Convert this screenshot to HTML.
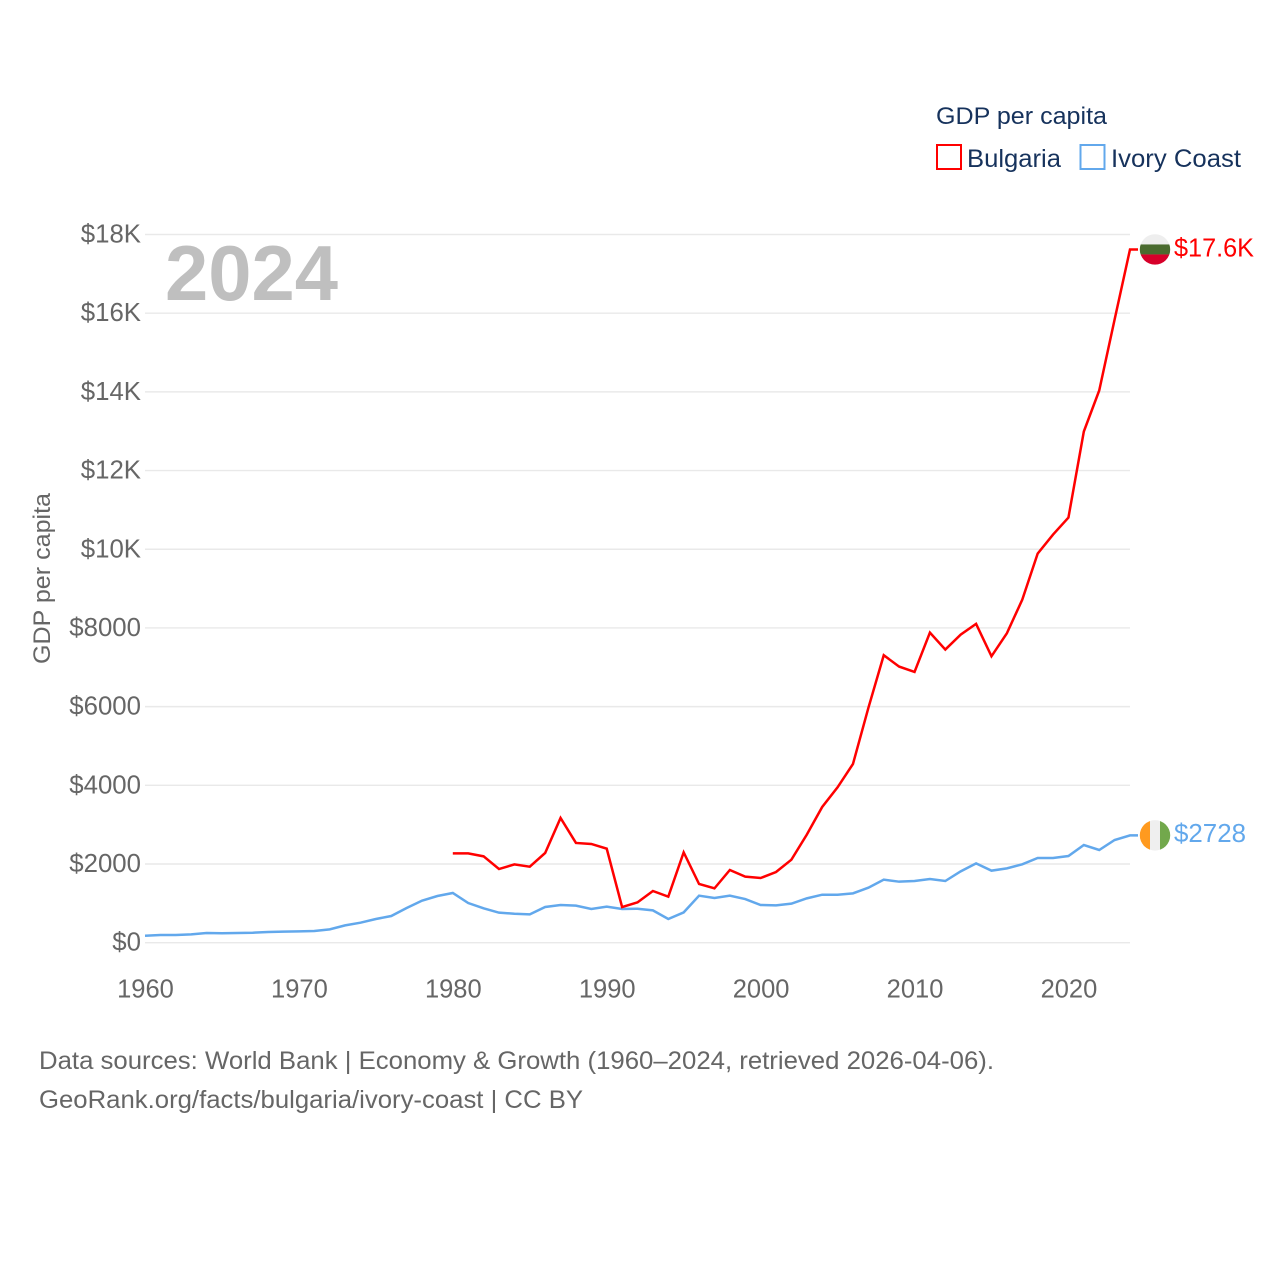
<!DOCTYPE html>
<html lang="en">
<head>
<meta charset="utf-8">
<title>GDP per capita: Bulgaria and Ivory Coast</title>
<style>
  html, body { margin: 0; padding: 0; background: #fff; }
  svg { display: block; font-family: "Liberation Sans", sans-serif; }
</style>
</head>
<body>
<svg id="chart" xmlns="http://www.w3.org/2000/svg" width="1280" height="1280" viewBox="0 0 1280 1280">
  <rect width="1280" height="1280" fill="#ffffff"/>
  <defs>
    <clipPath id="clip-bg"><circle cx="0" cy="0" r="15.2"/></clipPath>
    <clipPath id="clip-ci"><circle cx="0" cy="0" r="15.2"/></clipPath>
  </defs>
  <g id="grid"></g>
  <g id="y-labels"></g>
  <g id="x-labels"></g>
  <text x="165" y="300" font-size="78" font-weight="700" fill="#bfbfbf" textLength="173" lengthAdjust="spacingAndGlyphs">2024</text>
  <text transform="translate(50,578.5) rotate(-90)" text-anchor="middle" font-size="24" fill="#666666" textLength="171" lengthAdjust="spacingAndGlyphs">GDP per capita</text>
  <g id="series"></g>
  <g id="ends"></g>
  <g>
    <text x="936" y="124" font-size="24.5" fill="#16325c" textLength="171" lengthAdjust="spacingAndGlyphs">GDP per capita</text>
    <g>
      <rect x="937" y="145" width="24" height="24" fill="none" stroke="#ff0000" stroke-width="2"/>
      <text x="967" y="167" font-size="25" fill="#16325c" textLength="94" lengthAdjust="spacingAndGlyphs">Bulgaria</text>
    </g>
    <g>
      <rect x="1080.5" y="145" width="24" height="24" fill="none" stroke="#62a8ec" stroke-width="2"/>
      <text x="1111" y="167" font-size="25" fill="#16325c" textLength="130" lengthAdjust="spacingAndGlyphs">Ivory Coast</text>
    </g>
  </g>
  <g>
    <text x="39" y="1069" font-size="25" fill="#666666" textLength="955" lengthAdjust="spacingAndGlyphs">Data sources: World Bank | Economy &amp; Growth (1960–2024, retrieved 2026-04-06).</text>
    <text x="39" y="1108" font-size="25" fill="#666666" textLength="544" lengthAdjust="spacingAndGlyphs">GeoRank.org/facts/bulgaria/ivory-coast | CC BY</text>
  </g>
</svg>
<script>
const years = [1960,1961,1962,1963,1964,1965,1966,1967,1968,1969,1970,1971,1972,1973,1974,1975,1976,1977,1978,1979,1980,1981,1982,1983,1984,1985,1986,1987,1988,1989,1990,1991,1992,1993,1994,1995,1996,1997,1998,1999,2000,2001,2002,2003,2004,2005,2006,2007,2008,2009,2010,2011,2012,2013,2014,2015,2016,2017,2018,2019,2020,2021,2022,2023,2024];
const bulgaria = [null,null,null,null,null,null,null,null,null,null,null,null,null,null,null,null,null,null,null,null,2270,2270,2195,1873,1990,1932,2280,3170,2535,2510,2390,907,1025,1314,1170,2296,1492,1381,1848,1678,1644,1797,2110,2746,3450,3950,4543,5967,7306,7018,6882,7882,7450,7831,8103,7280,7865,8720,9890,10374,10806,12993,14035,15840,17620];
const ivoryCoast = [178,195,195,212,246,240,246,254,271,280,288,297,339,440,508,602,678,881,1068,1187,1263,1009,873,763,737,720,907,958,941,856,915,856,864,822,602,770,1195,1136,1195,1110,958,950,992,1127,1220,1220,1254,1398,1602,1551,1568,1619,1568,1814,2017,1831,1890,1992,2152,2152,2203,2483,2356,2610,2728];
const yTicks = [0,2000,4000,6000,8000,10000,12000,14000,16000,18000];
const yTickLabels = ["$0","$2000","$4000","$6000","$8000","$10K","$12K","$14K","$16K","$18K"];
const xTicks = [1960,1970,1980,1990,2000,2010,2020];
const endLabels = ["$17.6K","$2728"];

const NS = "http://www.w3.org/2000/svg";
const plotLeft = 145, plotRight = 1130, plotTop = 234.5, plotBottom = 942.7;
const xMin = 1960, xMax = 2024, yMin = 0, yMax = 18000;
const RED = "#ff0000", BLUE = "#62a8ec";

function xScale(v) { return plotLeft + (v - xMin) / (xMax - xMin) * (plotRight - plotLeft); }
function yScale(v) { return plotBottom - (v - yMin) / (yMax - yMin) * (plotBottom - plotTop); }
function make(tag, attrs, parent) {
  const el = document.createElementNS(NS, tag);
  for (const k in attrs) el.setAttribute(k, attrs[k]);
  parent.appendChild(el);
  return el;
}

const gridG = document.getElementById("grid");
const yLabelG = document.getElementById("y-labels");
yTicks.forEach(function (t, i) {
  const line = make("line", { x1: plotLeft, x2: plotRight, y1: yScale(t), y2: yScale(t), stroke: "#e9e9e9", "stroke-width": 1.4 }, gridG);
  
  
  const label = make("text", { x: 141, y: yScale(t) + 8, "text-anchor": "end", "font-size": 25.8, fill: "#666666" }, yLabelG);
  label.textContent = yTickLabels[i];
  
  
});

const xLabelG = document.getElementById("x-labels");
xTicks.forEach(function (t) {
  const label = make("text", { x: xScale(t) + 0.5, y: 997.5, "text-anchor": "middle", "font-size": 25.5, fill: "#666666" }, xLabelG);
  label.textContent = String(t);
  
  
});

function linePath(values) {
  let d = "";
  let last = null;
  values.forEach(function (v, i) {
    if (v === null) return;
    d += (d ? "L" : "M") + xScale(years[i]).toFixed(2) + " " + yScale(v).toFixed(2);
    last = v;
  });
  d += "L" + (plotRight + 8) + " " + yScale(last).toFixed(2);
  return d;
}

const seriesG = document.getElementById("series");
const blueLine = make("path", { d: linePath(ivoryCoast), fill: "none", stroke: BLUE, "stroke-width": 2.5, "stroke-linejoin": "miter" }, seriesG);


const redLine = make("path", { d: linePath(bulgaria), fill: "none", stroke: RED, "stroke-width": 2.5, "stroke-linejoin": "miter" }, seriesG);



const endsG = document.getElementById("ends");
const flagX = 1155;

const bgY = yScale(bulgaria[bulgaria.length - 1]);
const bgFlag = make("g", { transform: "translate(" + flagX + "," + bgY + ")", "clip-path": "url(#clip-bg)" }, endsG);


make("rect", { x: -16, y: -16, width: 32, height: 11, fill: "#eeeeee" }, bgFlag);
make("rect", { x: -16, y: -5, width: 32, height: 10, fill: "#4a6b2f" }, bgFlag);
make("rect", { x: -16, y: 5, width: 32, height: 11, fill: "#d7002a" }, bgFlag);
const bgLabel = make("text", { x: 1174, y: bgY + 7, "font-size": 25.5, fill: RED, textLength: 80, lengthAdjust: "spacingAndGlyphs" }, endsG);
bgLabel.textContent = endLabels[0];



const ciY = yScale(ivoryCoast[ivoryCoast.length - 1]);
const ciFlag = make("g", { transform: "translate(" + flagX + "," + ciY + ")", "clip-path": "url(#clip-ci)" }, endsG);


make("rect", { x: -16, y: -16, width: 11, height: 32, fill: "#ff9a1f" }, ciFlag);
make("rect", { x: -5, y: -16, width: 10, height: 32, fill: "#efefef" }, ciFlag);
make("rect", { x: 5, y: -16, width: 11, height: 32, fill: "#72a84c" }, ciFlag);
const ciLabel = make("text", { x: 1174, y: ciY + 6.5, "font-size": 25.5, fill: BLUE, textLength: 72, lengthAdjust: "spacingAndGlyphs" }, endsG);
ciLabel.textContent = endLabels[1];


</script>
</body>
</html>
